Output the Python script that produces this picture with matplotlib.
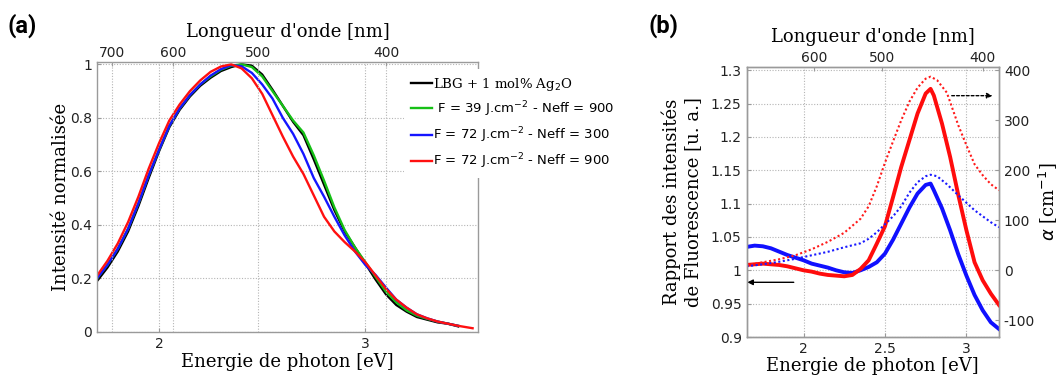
import matplotlib
matplotlib.use("Agg")
import matplotlib.pyplot as plt
from matplotlib import font_manager

# ---------------- data: panel (a) normalised emission ----------------
HC = 1240.0  # eV.nm
energy_lbg = [1.70, 1.75, 1.80, 1.85, 1.90, 1.95, 2.00, 2.05, 2.10, 2.15, 2.20, 2.25, 2.30, 2.35,
              2.40, 2.45, 2.50, 2.55, 2.60, 2.65, 2.70, 2.75, 2.80, 2.85, 2.90, 2.95, 3.00, 3.05,
              3.10, 3.15, 3.20, 3.25, 3.30, 3.35, 3.40, 3.45]
int_lbg = [0.19, 0.24, 0.30, 0.375, 0.47, 0.575, 0.675, 0.765, 0.83, 0.88, 0.92, 0.95, 0.975, 0.99,
           1.0, 0.995, 0.962, 0.905, 0.845, 0.785, 0.735, 0.645, 0.55, 0.455, 0.375, 0.315, 0.255, 0.195,
           0.14, 0.10, 0.075, 0.055, 0.045, 0.035, 0.03, 0.02]

energy_f39 = [1.70, 1.75, 1.80, 1.85, 1.90, 1.95, 2.00, 2.05, 2.10, 2.15, 2.20, 2.25, 2.30, 2.35,
              2.40, 2.45, 2.50, 2.55, 2.60, 2.65, 2.70, 2.75, 2.80, 2.85, 2.90, 2.95, 3.00, 3.05,
              3.10, 3.15, 3.20, 3.25, 3.30, 3.35, 3.40, 3.45]
int_f39 = [0.20, 0.25, 0.31, 0.385, 0.48, 0.585, 0.68, 0.77, 0.835, 0.885, 0.925, 0.955, 0.98, 0.995,
           1.0, 0.99, 0.955, 0.90, 0.845, 0.79, 0.745, 0.66, 0.565, 0.465, 0.38, 0.315, 0.26, 0.205,
           0.15, 0.11, 0.08, 0.06, 0.048, 0.038, 0.03, 0.022]

energy_f72_300 = [1.70, 1.75, 1.80, 1.85, 1.90, 1.95, 2.00, 2.05, 2.10, 2.15, 2.20, 2.25, 2.30, 2.35,
                  2.40, 2.45, 2.50, 2.55, 2.60, 2.65, 2.70, 2.75, 2.80, 2.85, 2.90, 2.95, 3.00, 3.05,
                  3.10, 3.15, 3.20, 3.25, 3.30, 3.35, 3.40, 3.45]
int_f72_300 = [0.20, 0.25, 0.31, 0.385, 0.48, 0.585, 0.68, 0.77, 0.835, 0.885, 0.925, 0.958, 0.982, 0.997,
               0.993, 0.968, 0.925, 0.872, 0.80, 0.74, 0.665, 0.575, 0.505, 0.43, 0.36, 0.30, 0.25, 0.212,
               0.165, 0.12, 0.09, 0.065, 0.05, 0.038, 0.03, 0.022]

energy_f72_900 = [1.70, 1.75, 1.80, 1.85, 1.90, 1.95, 2.00, 2.05, 2.10, 2.15, 2.20, 2.25, 2.30, 2.35,
                  2.40, 2.45, 2.50, 2.55, 2.60, 2.65, 2.70, 2.75, 2.80, 2.85, 2.90, 2.95, 3.00, 3.05,
                  3.10, 3.15, 3.20, 3.25, 3.30, 3.35, 3.40, 3.45, 3.52]
int_f72_900 = [0.21, 0.265, 0.33, 0.41, 0.505, 0.61, 0.705, 0.79, 0.85, 0.9, 0.94, 0.972, 0.992, 1.0,
               0.985, 0.948, 0.89, 0.81, 0.73, 0.655, 0.59, 0.51, 0.43, 0.375, 0.335, 0.30, 0.26, 0.21,
               0.16, 0.12, 0.09, 0.065, 0.05, 0.038, 0.03, 0.022, 0.013]

labels_a = ["LBG + 1 mol% Ag$_2$O",
            " F = 39 J.cm$^{-2}$ - Neff = 900",
            "F = 72 J.cm$^{-2}$ - Neff = 300",
            "F = 72 J.cm$^{-2}$ - Neff = 900"]
colors_a = ["black", "#16c016", "#1515ff", "#ff1010"]

yticks_a = [0, 0.2, 0.4, 0.6, 0.8, 1]
xticks_a = [2, 3]
wl_ticks_a = [700, 600, 500, 400]

# ---------------- data: panel (b) ----------------
energy_ratio = [1.65, 1.70, 1.75, 1.80, 1.85, 1.90, 1.95, 2.00, 2.05, 2.10, 2.15, 2.20, 2.25, 2.30,
                2.35, 2.40, 2.45, 2.50, 2.55, 2.60, 2.65, 2.70, 2.75, 2.78, 2.80, 2.85, 2.90, 2.95,
                3.00, 3.05, 3.10, 3.15, 3.20]
ratio_red = [1.008, 1.009, 1.010, 1.009, 1.008, 1.006, 1.003, 1.000, 0.998, 0.995, 0.993, 0.992, 0.991, 0.993,
             1.002, 1.015, 1.040, 1.066, 1.110, 1.155, 1.195, 1.235, 1.265, 1.272, 1.262, 1.220, 1.170, 1.113,
             1.060, 1.012, 0.985, 0.965, 0.948]
ratio_blue = [1.035, 1.037, 1.036, 1.033, 1.028, 1.023, 1.019, 1.015, 1.010, 1.007, 1.004, 1.000, 0.997, 0.996,
              1.000, 1.005, 1.012, 1.025, 1.046, 1.070, 1.094, 1.115, 1.128, 1.130, 1.120, 1.093, 1.060, 1.024,
              0.992, 0.963, 0.940, 0.922, 0.912]

energy_alpha = [1.65, 1.75, 1.85, 1.95, 2.05, 2.15, 2.25, 2.35, 2.40, 2.45, 2.50, 2.55, 2.60, 2.65,
                2.70, 2.75, 2.78, 2.82, 2.88, 2.95, 3.00, 3.05, 3.10, 3.15, 3.20]
alpha_red = [10, 16, 22, 30, 42, 57, 75, 103, 128, 168, 215, 258, 300, 337,
             365, 383, 387, 380, 355, 290, 250, 212, 190, 172, 160]
alpha_blue = [8, 12, 17, 23, 30, 37, 46, 54, 63, 76, 92, 108, 128, 155,
              176, 188, 191, 188, 172, 150, 135, 120, 108, 96, 86]

yticks_b = [0.9, 0.95, 1, 1.05, 1.1, 1.15, 1.2, 1.25, 1.3]
yticks_b_right = [-100, 0, 100, 200, 300, 400]
xticks_b = [2, 2.5, 3]
wl_ticks_b = [600, 500, 400]

# ---------------- style ----------------
SERIF = "DejaVu Serif"
SANS = "DejaVu Sans"
available = {f.name for f in font_manager.fontManager.ttflist}
NARROW = "Liberation Sans Narrow" if "Liberation Sans Narrow" in available else "Roboto"
SPINE = "#9a9a9a"
TICKC = "#222222"
GRID = dict(color="#b5b5b5", linestyle=(0, (1, 1.5)), linewidth=0.8)

fig = plt.figure(figsize=(10.64, 3.76), dpi=100)


def style_axis(ax):
    for s in ax.spines.values():
        s.set_color(SPINE)
        s.set_linewidth(1.0)
    ax.tick_params(direction="in", length=3, width=0.8, color=SPINE,
                   labelsize=10, labelcolor=TICKC)
    for lab in ax.get_xticklabels() + ax.get_yticklabels():
        lab.set_fontfamily(SANS)


def fmt(v):
    return ("%g" % v)


# ================= panel (a) =================
axa = fig.add_axes([0.0909, 0.1178, 0.3587, 0.716])
series_a = [(energy_lbg, int_lbg), (energy_f39, int_f39),
            (energy_f72_300, int_f72_300), (energy_f72_900, int_f72_900)]
handles = []
for (e, v), c, lab in zip(series_a, colors_a, labels_a):
    h, = axa.plot(e, v, color=c, lw=1.7, label=lab)
    handles.append(h)
axa.set_xlim(1.698, 3.548)
axa.set_ylim(0, 1.007)
axa.set_xticks(xticks_a)
axa.set_xticklabels([fmt(t) for t in xticks_a])
axa.set_yticks(yticks_a)
axa.set_yticklabels([fmt(t) for t in yticks_a])
axa.grid(True, **GRID)
axa.set_axisbelow(True)
style_axis(axa)
axa.set_xlabel("Energie de photon [eV]", family=SERIF, fontsize=13, labelpad=2)
axa.set_ylabel("Intensité normalisée", family=SERIF, fontsize=13, labelpad=0)

axa_t = axa.twiny()
axa_t.set_xlim(axa.get_xlim())
axa_t.set_xticks([HC / w for w in wl_ticks_a])
axa_t.set_xticklabels([str(w) for w in wl_ticks_a])
axa_t.grid(True, **GRID)
for s in axa_t.spines.values():
    s.set_visible(False)
axa_t.tick_params(direction="in", length=3, width=0.8, color=SPINE, labelsize=10,
                  labelcolor=TICKC, pad=2)
axa_t.set_xlabel("Longueur d'onde [nm]", family=SERIF, fontsize=13, labelpad=6)

leg = axa_t.legend(handles, labels_a, loc="upper left", bbox_to_anchor=(0.805, 0.976),
                   borderaxespad=0, frameon=True, fancybox=False, framealpha=1,
                   facecolor="white", edgecolor="none", fontsize=9.5,
                   handlelength=1.6, handletextpad=0.1, labelspacing=0.5,
                   borderpad=0.5)
for t in leg.get_texts():
    t.set_fontfamily(SANS)
leg.get_texts()[0].set_fontfamily(SERIF)

fig.text(0.0207, 0.931, "(a)", fontsize=17, fontweight="bold", family=NARROW,
         ha="center", va="center")

# ================= panel (b) =================
axb = fig.add_axes([0.7016, 0.1037, 0.2373, 0.7168])
axb.plot(energy_ratio, ratio_blue, color="#1010ff", lw=2.8, zorder=3)
axb.plot(energy_ratio, ratio_red, color="#ff0c0c", lw=2.8, zorder=3)
YB = (0.9, 1.304)
axb.set_xlim(1.65, 3.2)
axb.set_ylim(*YB)
axb.set_xticks(xticks_b)
axb.set_xticklabels([fmt(t) for t in xticks_b])
axb.set_yticks(yticks_b)
axb.set_yticklabels([fmt(t) for t in yticks_b])
axb.grid(True, **GRID)
axb.set_axisbelow(True)
style_axis(axb)
axb.set_xlabel("Energie de photon [eV]", family=SERIF, fontsize=13, labelpad=1)
axb.set_ylabel("Rapport des intensités\nde Fluorescence [u. a.]", family=SERIF,
               fontsize=13, labelpad=6, linespacing=1.25)

axb.annotate("", xy=(1.655, 0.982), xytext=(1.94, 0.982),
             arrowprops=dict(arrowstyle="-|>", color="black", lw=1.0,
                             mutation_scale=8, shrinkA=0, shrinkB=0))

axb_r = axb.twinx()
axb_r.plot(energy_alpha, alpha_red, color="#ff1a1a", lw=1.5, linestyle=(0, (1, 1.2)))
axb_r.plot(energy_alpha, alpha_blue, color="#1a1aff", lw=1.5, linestyle=(0, (1, 1.2)))
axb_r.set_ylim((YB[0] - 1) * 4000 / 3, (YB[1] - 1) * 4000 / 3)
axb_r.set_yticks(yticks_b_right)
axb_r.set_yticklabels([fmt(t) for t in yticks_b_right])
style_axis(axb_r)
axb_r.set_ylabel(r"$\alpha$ [cm$^{-1}$]", family=SERIF, fontsize=13)
axb_r.yaxis.set_label_coords(1.15, 0.5)
axb_r.annotate("", xy=(3.16, 349), xytext=(2.91, 349),
               arrowprops=dict(arrowstyle="-|>", color="black", lw=1.0,
                               linestyle=(0, (2, 1.5)), mutation_scale=8,
                               shrinkA=0, shrinkB=0))

axb_t = axb.twiny()
axb_t.set_xlim(axb.get_xlim())
axb_t.set_xticks([HC / w for w in wl_ticks_b])
axb_t.set_xticklabels([str(w) for w in wl_ticks_b])
for s in axb_t.spines.values():
    s.set_visible(False)
axb_t.tick_params(direction="in", length=3, width=0.8, color=SPINE, labelsize=10,
                  labelcolor=TICKC, pad=2)
axb_t.set_xlabel("Longueur d'onde [nm]", family=SERIF, fontsize=13, labelpad=6)

fig.text(0.624, 0.931, "(b)", fontsize=17, fontweight="bold", family=NARROW,
         ha="center", va="center")

fig.savefig("out.png", dpi=100)
